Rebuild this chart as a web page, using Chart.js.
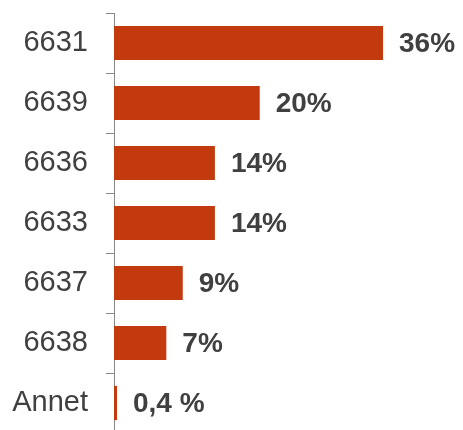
<!DOCTYPE html>
<html>
<head>
<meta charset="utf-8">
<script src="https://cdn.jsdelivr.net/npm/chart.js@4"></script>
<style>
  html, body { margin: 0; padding: 0; background: #fff; overflow: hidden; }
  #wrap { width: 463px; height: 433px; }
</style>
</head>
<body>
<div id="wrap"><canvas id="chart"></canvas></div>
<script>
// Data
const categories = ['6631', '6639', '6636', '6633', '6637', '6638', 'Annet'];
const shares = [36, 19.5, 13.5, 13.5, 9.2, 7, 0.4];
const shareLabels = ['36%', '20%', '14%', '14%', '9%', '7%', '0,4 %'];

const barColor = '#C33A0E';
const textColor = '#404040';

// Draw the bold value labels to the right of each bar
const valueLabels = {
    id: 'valueLabels',
    afterDatasetsDraw(chart) {
        const ctx = chart.ctx;
        const meta = chart.getDatasetMeta(0);
        ctx.save();
        ctx.font = 'bold 28px "Liberation Sans", Arial, sans-serif';
        ctx.fillStyle = textColor;
        ctx.textBaseline = 'middle';
        ctx.textAlign = 'left';
        meta.data.forEach((bar, i) => {
            ctx.fillText(shareLabels[i], bar.x + 16, bar.y + 1);
        });
        ctx.restore();
    }
};

new Chart(document.getElementById('chart'), {
    type: 'bar',
    data: {
        labels: categories,
        datasets: [{
            data: shares,
            backgroundColor: barColor,
            borderWidth: 0,
            categoryPercentage: 0.57,
            barPercentage: 1
        }]
    },
    options: {
        indexAxis: 'y',
        responsive: true,
        maintainAspectRatio: false,
        animation: false,
        layout: { padding: { top: 13, left: 0, right: 0, bottom: 0 } },
        plugins: {
            legend: { display: false },
            tooltip: { enabled: false }
        },
        scales: {
            x: {
                display: false,
                min: 0,
                max: 46.7
            },
            y: {
                afterFit(scale) {
                    scale.width = 114;
                    scale.paddingTop = 0;
                    scale.paddingBottom = 0;
                },
                grid: {
                    drawOnChartArea: false,
                    drawTicks: true,
                    tickLength: 8,
                    color: '#888888',
                    offset: true
                },
                border: { display: true, color: '#888888', width: 1 },
                ticks: {
                    color: textColor,
                    padding: 18,
                    font: { family: '"Liberation Sans", Arial, sans-serif', size: 29 }
                }
            }
        }
    },
    plugins: [valueLabels]
});
</script>
</body>
</html>
